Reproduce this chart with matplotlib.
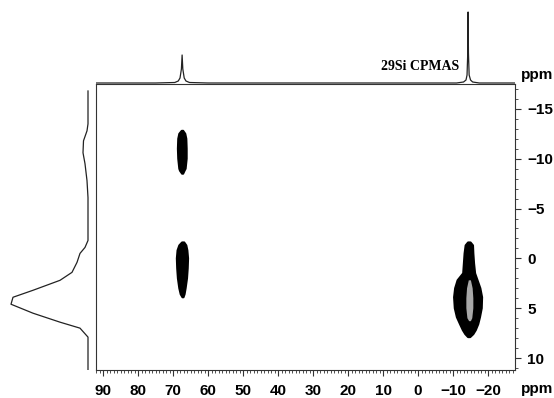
import numpy as np
import matplotlib.pyplot as plt
from matplotlib.ticker import MultipleLocator

# --- data (ppm) ---
# top projection (29Si CPMAS)
top_ppm = [92, 75, 69.5, 68.5, 68.0, 67.6, 67.4, 67.2, 66.8, 66.3, 65.3, 60, 20,
           -11, -13.0, -13.7, -14.0, -14.2, -14.3, -14.4, -14.6, -15.0, -15.6, -17.5, -27.7]
top_int = [0, 0, 0.5, 2, 5, 14, 28, 14, 5, 2, 0.5, 0, 0,
           0, 1, 3, 8, 30, 71, 30, 8, 3, 1, 0, 0]

# left projection (indirect dimension)
left_ppm = [-16.8, -13.5, -12.8, -11.8, -10.6, -9.5, -7.8, -6.1, -1.8, -1.1, -0.5,
            0.4, 1.4, 2.2, 3.2, 3.9, 4.6, 5.5, 6.4, 7.0, 7.9, 11.2]
left_int = [0, 0, 1, 4.5, 5, 3, 1, 0, 0, 3, 8,
            11, 16, 28, 55, 75, 77, 55, 28, 8, 0, 0]

# contour outlines: y (indirect ppm), left/right edge (direct ppm)
p1_y = [-12.8, -12.5, -12.0, -11.0, -10.0, -9.0, -8.8, -8.5]
p1_l = [67.5, 68.2, 68.5, 68.6, 68.5, 68.2, 68.0, 67.4]
p1_r = [67.1, 66.5, 66.2, 66.1, 66.1, 66.4, 66.7, 67.1]

p2_y = [-1.6, -1.3, -0.8, 0.0, 1.0, 2.0, 3.0, 3.6, 3.9]
p2_l = [67.4, 68.2, 68.7, 68.9, 68.8, 68.6, 68.2, 67.8, 67.3]
p2_r = [66.8, 66.2, 65.9, 65.7, 65.8, 66.0, 66.4, 66.7, 67.0]

p3_y = [-1.6, -1.3, -0.5, 0.5, 1.5, 2.2, 3.0, 3.9, 5.0, 5.9, 6.6, 7.2, 7.6, 7.9]
p3_l = [-14.3, -13.6, -13.3, -13.1, -12.9, -11.3, -10.6, -10.3, -10.5, -11.1, -12.0, -12.8, -13.5, -14.3]
p3_r = [-15.0, -15.7, -15.8, -16.0, -16.3, -17.0, -17.8, -18.3, -18.2, -17.7, -17.2, -16.5, -15.8, -14.9]

core_y = [2.2, 3.0, 4.0, 5.0, 6.0, 6.3]
core_l = [-14.5, -14.0, -13.8, -13.8, -14.1, -14.6]
core_r = [-15.1, -15.6, -15.8, -15.8, -15.5, -15.1]

xlim = (92, -27.7)
ylim = (11.2, -17.5)

W, H = 554, 398
fig = plt.figure(figsize=(W / 100, H / 100), dpi=100)
plt.rcParams['font.family'] = 'Liberation Sans'

def px(l, t, r, b):
    return [l / W, 1 - b / H, (r - l) / W, (b - t) / H]

ax = fig.add_axes(px(96, 84, 515, 370))
axt = fig.add_axes(px(96, 5, 515, 86))
axl = fig.add_axes(px(0, 84, 95, 370))

def outline(l, r, y):
    return list(l) + list(r)[::-1], list(y) + list(y)[::-1]

for l, r, y in [(p1_l, p1_r, p1_y), (p2_l, p2_r, p2_y), (p3_l, p3_r, p3_y)]:
    xs, ys = outline(l, r, y)
    ax.fill(xs, ys, color='black', lw=1.5, joinstyle='round')
xs, ys = outline(core_l, core_r, core_y)
ax.fill(xs, ys, color='#a8a8a8', lw=0)

ax.set_xlim(xlim)
ax.set_ylim(ylim)
for s in ax.spines.values():
    s.set_linewidth(0.8)
    s.set_color('#333333')
ax.yaxis.tick_right()
ax.xaxis.set_major_locator(MultipleLocator(10))
ax.xaxis.set_minor_locator(MultipleLocator(1))
ax.yaxis.set_major_locator(MultipleLocator(5))
ax.yaxis.set_minor_locator(MultipleLocator(1))
ax.tick_params(which='major', length=4, width=0.8, color='#333333')
ax.tick_params(which='minor', length=2, width=0.6, color='#333333')
ax.tick_params(axis='both', labelsize=11)
ax.xaxis.set_tick_params(pad=6)
ax.yaxis.set_tick_params(pad=5)
for lab in ax.get_xticklabels() + ax.get_yticklabels():
    lab.set_fontweight('bold')

# top projection
axt.plot(top_ppm, top_int, color='#222222', lw=0.9)
axt.set_xlim(xlim)
axt.set_ylim(-3, 78)
axt.axis('off')

# left projection
axl.plot(left_int, left_ppm, color='#222222', lw=0.9)
axl.set_xlim(88, -7)
axl.set_ylim(ylim)
axl.axis('off')

fig.text(420 / W, 1 - 67 / H, '29Si CPMAS', family='Liberation Serif',
         fontweight='bold', fontsize=10, ha='center', va='center')
fig.text(537 / W, 1 - 75 / H, 'ppm', fontweight='bold', fontsize=11,
         ha='center', va='center')
fig.text(537 / W, 1 - 389 / H, 'ppm', fontweight='bold', fontsize=11,
         ha='center', va='center')

fig.savefig('out.png', dpi=100)
